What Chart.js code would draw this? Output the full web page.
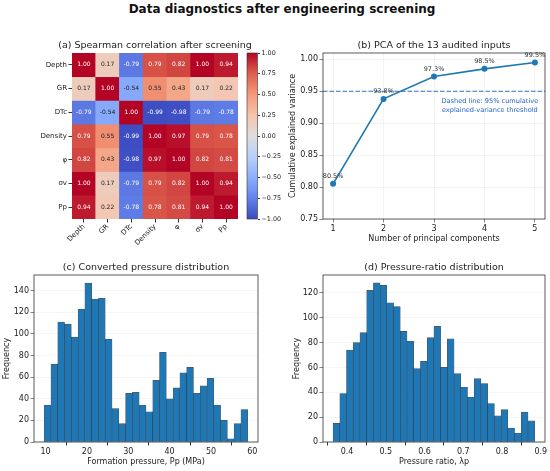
<!DOCTYPE html>
<html>
<head>
<meta charset="utf-8">
<script src="https://cdn.jsdelivr.net/npm/chart.js@4.4.1/dist/chart.umd.min.js"></script>
<style>
  html, body { margin: 0; padding: 0; background: #fff; }
  #fig { position: relative; width: 550px; height: 471px; overflow: hidden; }
  #fig canvas { position: absolute; }
  #suptitle {
    position: absolute; left: 7px; top: 2px; width: 550px; text-align: center;
    font: bold 12px "DejaVu Sans"; line-height: 14px; color: #111;
  }
</style>
</head>
<body>
<div id="fig">
  <div id="suptitle">Data diagnostics after engineering screening</div>
  <canvas id="cA" width="268" height="222" style="left:0;top:30px"></canvas>
  <canvas id="cBar" width="60" height="222" style="left:240px;top:30px"></canvas>
  <canvas id="cB" width="280" height="222" style="left:270px;top:30px"></canvas>
  <canvas id="cC" width="270" height="219" style="left:0;top:252px"></canvas>
  <canvas id="cD" width="280" height="219" style="left:270px;top:252px"></canvas>
</div>
<script>
// (a) Spearman correlation
const HM_VARS = ["Depth", "GR", "DTc", "Density", "φ", "σv", "Pp"];
const CORR = [
  [1.00, 0.17, -0.79, 0.79, 0.82, 1.00, 0.94],
  [0.17, 1.00, -0.54, 0.55, 0.43, 0.17, 0.22],
  [-0.79, -0.54, 1.00, -0.99, -0.98, -0.79, -0.78],
  [0.79, 0.55, -0.99, 1.00, 0.97, 0.79, 0.78],
  [0.82, 0.43, -0.98, 0.97, 1.00, 0.82, 0.81],
  [1.00, 0.17, -0.79, 0.79, 0.82, 1.00, 0.94],
  [0.94, 0.22, -0.78, 0.78, 0.81, 0.94, 1.00]
];
const CBAR_TICKS = [-1, -0.75, -0.5, -0.25, 0, 0.25, 0.5, 0.75, 1];

// (b) PCA
const PC_N = [1, 2, 3, 4, 5];
const PC_CUM = [0.805, 0.938, 0.973, 0.985, 0.995];
const PC_LABELS = ["80.5%", "93.8%", "97.3%", "98.5%", "99.5%"];
const PC_THRESHOLD = 0.95;
const PC_X_RANGE = [0.8, 5.2];
const PC_Y_TICKS = [0.75, 0.80, 0.85, 0.90, 0.95, 1.00];

// (c) formation pressure histogram (30 bins)
const PP_BIN_START = 9.68;
const PP_BIN_WIDTH = 1.64;
const PP_COUNTS = [34, 72, 111, 109, 97, 123, 147, 132, 133, 95, 31, 17, 45, 46, 34,
                   28, 57, 83, 40, 50, 64, 69, 45, 52, 59, 34, 20, 3, 17, 30];
const PP_X_TICKS = [10, 20, 30, 40, 50, 60];
const PP_Y_TICKS = [0, 20, 40, 60, 80, 100, 120, 140];

// (d) pressure ratio histogram (30 bins)
const LP_BIN_START = 0.364;
const LP_BIN_WIDTH = 0.01735;
const LP_COUNTS = [15, 39, 74, 80, 88, 122, 128, 126, 112, 109, 89, 81, 59, 65, 84,
                   93, 60, 83, 55, 44, 36, 51, 47, 31, 21, 26, 11, 7, 24, 17];
const LP_X_TICKS = [0.4, 0.5, 0.6, 0.7, 0.8, 0.9];
const LP_Y_TICKS = [0, 20, 40, 60, 80, 100, 120];

const BLUE = "#1f77b4";
const FONT = "DejaVu Sans";

Chart.defaults.font.family = FONT;
Chart.defaults.color = "#222";
Chart.defaults.animation = false;
Chart.defaults.responsive = false;
Chart.defaults.plugins.legend.display = false;
Chart.defaults.plugins.tooltip.enabled = false;

// matplotlib coolwarm, sampled
const COOLWARM = [[59,76,192],[98,130,234],[141,176,254],[184,208,249],[221,221,221],
                  [245,196,173],[244,154,123],[222,96,77],[180,4,38]];
function coolwarm(v) {
  const t = Math.min(1, Math.max(0, (v + 1) / 2)) * (COOLWARM.length - 1);
  const i = Math.min(Math.floor(t), COOLWARM.length - 2), f = t - i;
  const c = COOLWARM[i].map((a, k) => Math.round(a + (COOLWARM[i + 1][k] - a) * f));
  return "rgb(" + c.join(",") + ")";
}

const uminus = (s) => s.replace("-", "\u2212");

// spines + panel title, drawn round the chart area
const framePlugin = {
  id: "frame",
  afterDraw(chart, args, opts) {
    const { ctx, chartArea: a } = chart;
    ctx.save();
    if (opts.stroke !== false) {
      ctx.strokeStyle = opts.color || "#333";
      ctx.lineWidth = opts.width || 0.8;
      ctx.strokeRect(a.left, a.top, a.right - a.left, a.bottom - a.top);
    }
    if (opts.title) {
      ctx.fillStyle = "#222";
      ctx.font = "9.5px " + FONT;
      ctx.textAlign = "center";
      ctx.textBaseline = "alphabetic";
      ctx.fillText(opts.title, (a.left + a.right) / 2, a.top - 5.5);
    }
    ctx.restore();
  }
};
Chart.register(framePlugin);

const fixW = (w) => (s) => { s.width = w; s.paddingTop = 0; s.paddingBottom = 0; };
const fixH = (h) => (s) => { s.height = h; s.paddingLeft = 0; s.paddingRight = 0; };
const setTicks = (arr) => (s) => { s.ticks = arr.map((v) => ({ value: v })); };

function axisTitle(text, pad) {
  return { display: true, text, font: { size: 8 }, color: "#222", padding: pad };
}

// ---------- (a) heatmap ----------
new Chart(document.getElementById("cA"), {
  type: "bar",
  data: {
    labels: HM_VARS,
    datasets: HM_VARS.map((row, r) => ({
      label: row,
      data: HM_VARS.map(() => 1),
      backgroundColor: CORR[r].map(coolwarm),
      borderWidth: 0,
      barPercentage: 1,
      categoryPercentage: 1,
      stack: "m"
    }))
  },
  options: {
    layout: { padding: { left: 0, top: 23, right: 30, bottom: 0 } },
    scales: {
      x: {
        stacked: true,
        afterFit: fixH(33),
        grid: { offset: false, drawOnChartArea: false, tickLength: 3.5, tickColor: "#333" },
        border: { display: false },
        ticks: { font: { size: 7 }, color: "#222", maxRotation: 45, minRotation: 45, padding: 0 }
      },
      y: {
        type: "linear",
        stacked: true,
        reverse: true,
        min: 0,
        max: HM_VARS.length,
        afterFit: fixW(72),
        afterBuildTicks: setTicks(HM_VARS.map((_, i) => i + 0.5)),
        grid: { drawOnChartArea: false, tickLength: 3.5, tickColor: "#333" },
        border: { display: false },
        ticks: { font: { size: 7 }, color: "#222", padding: 1.5, callback: (v, i) => HM_VARS[i] }
      }
    },
    plugins: { frame: { stroke: false, title: "(a) Spearman correlation after screening" } }
  },
  plugins: [{
    id: "cellText",
    afterDatasetsDraw(chart) {
      const ctx = chart.ctx;
      ctx.save();
      ctx.font = "6px " + FONT;
      ctx.textAlign = "center";
      ctx.textBaseline = "middle";
      chart.data.datasets.forEach((ds, r) => {
        chart.getDatasetMeta(r).data.forEach((bar, c) => {
          const v = CORR[r][c];
          ctx.fillStyle = Math.abs(v) > 0.6 ? "#fff" : "#222";
          ctx.fillText(v.toFixed(2), bar.x, (bar.y + bar.base) / 2);
        });
      });
      ctx.restore();
    }
  }]
});

// ---------- colour bar ----------
new Chart(document.getElementById("cBar"), {
  type: "bar",
  data: {
    labels: [""],
    datasets: [{
      data: [[CBAR_TICKS[0], CBAR_TICKS[CBAR_TICKS.length - 1]]],
      barPercentage: 1,
      categoryPercentage: 1,
      borderWidth: 0,
      backgroundColor(c) {
        const a = c.chart.chartArea;
        if (!a) return "#ddd";
        const g = c.chart.ctx.createLinearGradient(0, a.bottom, 0, a.top);
        COOLWARM.forEach((rgb, i) => g.addColorStop(i / (COOLWARM.length - 1), "rgb(" + rgb.join(",") + ")"));
        return g;
      }
    }]
  },
  options: {
    layout: { padding: { left: 7, top: 23, right: 0, bottom: 33 } },
    scales: {
      x: { display: false },
      y: {
        position: "right",
        min: -1,
        max: 1,
        afterFit: fixW(42.5),
        afterBuildTicks: setTicks(CBAR_TICKS),
        grid: { drawOnChartArea: false, tickLength: 2.5, tickColor: "#333" },
        border: { display: false },
        ticks: { font: { size: 6.4 }, color: "#222", padding: 1.5, callback: (v) => uminus(v.toFixed(2)) }
      }
    },
    plugins: { frame: { width: 0.6 } }
  }
});

// ---------- (b) PCA ----------
new Chart(document.getElementById("cB"), {
  type: "line",
  data: {
    datasets: [{
      data: PC_N.map((n, i) => ({ x: n, y: PC_CUM[i] })),
      borderColor: BLUE,
      backgroundColor: BLUE,
      borderWidth: 1.6,
      pointRadius: 3,
      pointBorderWidth: 0,
      tension: 0
    }, {
      data: PC_X_RANGE.map((x) => ({ x, y: PC_THRESHOLD })),
      borderColor: "#2b74c2",
      borderWidth: 1.1,
      borderDash: [4.5, 2],
      pointRadius: 0
    }]
  },
  options: {
    layout: { padding: { left: 0, top: 23, right: 5, bottom: 0 } },
    scales: {
      x: {
        type: "linear",
        min: PC_X_RANGE[0],
        max: PC_X_RANGE[1],
        afterFit: fixH(33),
        afterBuildTicks: setTicks(PC_N),
        grid: { color: "rgba(0,0,0,0.08)", lineWidth: 0.6, tickLength: 3.5, tickColor: "#333" },
        border: { display: false },
        ticks: { font: { size: 8 }, color: "#222", padding: 2, maxRotation: 0 },
        title: axisTitle("Number of principal components", { bottom: 8 })
      },
      y: {
        min: 0.75,
        max: 1.0098,
        afterFit: fixW(53),
        afterBuildTicks: setTicks(PC_Y_TICKS),
        grid: { color: "rgba(0,0,0,0.08)", lineWidth: 0.6, tickLength: 3.5, tickColor: "#333" },
        border: { display: false },
        ticks: { font: { size: 8 }, color: "#222", padding: 1.5, callback: (v) => v.toFixed(2) },
        title: axisTitle("Cumulative explained variance", { top: 18 })
      }
    },
    plugins: { frame: { title: "(b) PCA of the 13 audited inputs" } }
  },
  plugins: [{
    id: "pcaLabels",
    afterDatasetsDraw(chart) {
      const ctx = chart.ctx, a = chart.chartArea;
      ctx.save();
      ctx.font = "6.5px " + FONT;
      ctx.textAlign = "center";
      ctx.textBaseline = "middle";
      ctx.fillStyle = "#333";
      chart.getDatasetMeta(0).data.forEach((p, i) => ctx.fillText(PC_LABELS[i], p.x, p.y - 7.5));
      ctx.fillStyle = "#2b63c6";
      ctx.font = "6.6px " + FONT;
      const cx = a.left + 0.97 * (a.right - a.left) - 48.5;
      const h = a.bottom - a.top;
      ctx.fillText("Dashed line: 95% cumulative", cx, a.top + 0.289 * h);
      ctx.fillText("explained-variance threshold", cx, a.top + 0.345 * h);
      ctx.restore();
    }
  }]
});

// ---------- histograms ----------
function histogram(id, o) {
  return new Chart(document.getElementById(id), {
    type: "bar",
    data: {
      datasets: [{
        data: o.counts.map((y, i) => ({ x: o.start + (i + 0.5) * o.width, y })),
        backgroundColor: BLUE,
        borderColor: "rgba(15,25,45,0.75)",
        borderWidth: 0.6,
        barPercentage: 1,
        categoryPercentage: 1
      }]
    },
    options: {
      layout: { padding: { left: 0, top: 23, right: o.padRight, bottom: 0 } },
      scales: {
        x: {
          type: "linear",
          offset: false,
          min: o.xRange[0],
          max: o.xRange[1],
          afterFit: fixH(29),
          afterBuildTicks: setTicks(o.xTicks),
          grid: { drawOnChartArea: false, tickLength: 3.5, tickColor: "#333" },
          border: { display: false },
          ticks: { font: { size: 8 }, color: "#222", padding: 2, maxRotation: 0, callback: o.xFmt },
          title: axisTitle(o.xTitle, { bottom: 4.5 })
        },
        y: {
          min: 0,
          max: o.yMax,
          afterFit: fixW(o.yWidth),
          afterBuildTicks: setTicks(o.yTicks),
          grid: { color: "rgba(0,0,0,0.07)", lineWidth: 0.6, tickLength: 3.5, tickColor: "#333" },
          border: { display: false },
          ticks: { font: { size: 8 }, color: "#222", padding: 1.5 },
          title: axisTitle("Frequency", { top: o.yTitlePad })
        }
      },
      plugins: { frame: { title: o.title } }
    }
  });
}

histogram("cC", {
  counts: PP_COUNTS, start: PP_BIN_START, width: PP_BIN_WIDTH,
  xRange: [7.22, 61.36], xTicks: PP_X_TICKS, xFmt: (v) => String(v),
  yMax: 154.5, yTicks: PP_Y_TICKS, yWidth: 34, yTitlePad: 2.2, padRight: 12,
  xTitle: "Formation pressure, Pp (MPa)", title: "(c) Converted pressure distribution"
});

histogram("cD", {
  counts: LP_COUNTS, start: LP_BIN_START, width: LP_BIN_WIDTH,
  xRange: [0.338, 0.911], xTicks: LP_X_TICKS, xFmt: (v) => v.toFixed(1),
  yMax: 134.4, yTicks: LP_Y_TICKS, yWidth: 53, yTitlePad: 21.9, padRight: 5,
  xTitle: "Pressure ratio, λp", title: "(d) Pressure-ratio distribution"
});
</script>
</body>
</html>
